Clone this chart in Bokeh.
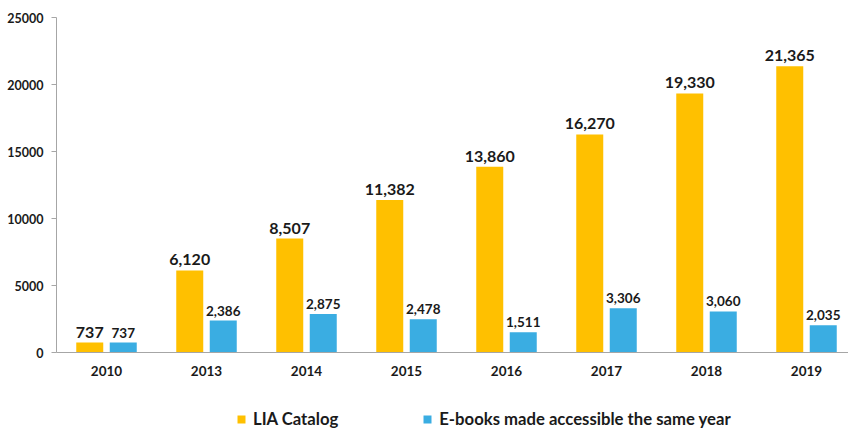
from bokeh.plotting import figure
from bokeh.layouts import column
from bokeh.models import ColumnDataSource, Legend, LegendItem, Range1d, NumeralTickFormatter, FixedTicker
from bokeh.core.properties import value
from bokeh.embed import file_html
from bokeh.resources import INLINE

years = ["2010", "2013", "2014", "2015", "2016", "2017", "2018", "2019"]
lia_catalog = [737, 6120, 8507, 11382, 13860, 16270, 19330, 21365]
ebooks = [737, 2386, 2875, 2478, 1511, 3306, 3060, 2035]
y_ticks = [0, 5000, 10000, 15000, 20000, 25000]
series_names = ["LIA Catalog", "E-books made accessible the same year"]

OFF = 0.1675   # dodge of each bar from the category centre (category units)
BW = 0.27      # bar width (category units)

centers = [i + 0.5 for i in range(len(years))]
src = ColumnDataSource(dict(
    xc=centers,
    x1=[c - OFF for c in centers],
    x2=[c + OFF for c in centers],
    lia=lia_catalog, eb=ebooks,
    lia_lbl=[f"{v:,}" for v in lia_catalog],
    eb_lbl=[f"{v:,}" for v in ebooks],
))

FONT = "Lato"
YEL = "#FFC000"
BLU = "#3AADE2"
TXT = "#1a1a1a"

p = figure(x_range=Range1d(0, 7.92), y_range=Range1d(0, 25000),
           width=848, height=400, output_backend="svg", toolbar_location=None,
           min_border_left=56, min_border_right=0, min_border_top=17, min_border_bottom=48)

p.vbar(x="x1", top="lia", width=BW, source=src, fill_color=YEL, line_color=None)
p.vbar(x="x2", top="eb", width=BW, source=src, fill_color=BLU, line_color=None)

p.text(x="x1", y="lia", text="lia_lbl", source=src,
       text_align="center", text_baseline="bottom", y_offset=-5,
       text_font=value(FONT), text_font_style="bold", text_font_size="16px", text_color=TXT)
p.text(x="x2", y="eb", text="eb_lbl", source=src,
       text_align="center", text_baseline="bottom", y_offset=-5,
       text_font=value(FONT), text_font_style="bold", text_font_size="13.5px", text_color=TXT)

p.xgrid.visible = False
p.ygrid.visible = False
p.outline_line_color = None

p.yaxis.ticker = FixedTicker(ticks=y_ticks)
p.yaxis.formatter = NumeralTickFormatter(format="0")
p.yaxis.minor_tick_line_color = None
p.yaxis.major_tick_in = 0
p.yaxis.major_tick_out = 5
p.yaxis.axis_line_color = "#a6a6a6"
p.yaxis.major_tick_line_color = "#a6a6a6"
p.yaxis.major_label_text_font = FONT
p.yaxis.major_label_text_font_style = "bold"
p.yaxis.major_label_text_font_size = "12.5px"
p.yaxis.major_label_text_color = TXT
p.yaxis.major_label_standoff = 8

p.xaxis.ticker = FixedTicker(ticks=centers)
p.xaxis.major_label_overrides = {c: y for c, y in zip(centers, years)}
p.xaxis.axis_line_color = "#a6a6a6"
p.xaxis.major_tick_line_color = None
p.xaxis.minor_tick_line_color = None
p.xaxis.major_label_text_font = FONT
p.xaxis.major_label_text_font_style = "bold"
p.xaxis.major_label_text_font_size = "13.5px"
p.xaxis.major_label_text_color = TXT
p.xaxis.major_label_standoff = 7

# legend strip below the chart (its frame is aligned with the chart frame)
lg = figure(width=848, height=29, output_backend="svg", toolbar_location=None,
            x_range=Range1d(0, 1), y_range=Range1d(0, 1),
            min_border=0, outline_line_color=None)
lg.axis.visible = False
lg.grid.visible = False
d1 = lg.vbar(x=[10], top=[10], bottom=[9], width=0.1, fill_color=YEL, line_color=None)
d2 = lg.vbar(x=[10], top=[10], bottom=[9], width=0.1, fill_color=BLU, line_color=None)
legend = Legend(items=[LegendItem(label=series_names[0], renderers=[d1]),
                       LegendItem(label=series_names[1], renderers=[d2])],
                orientation="horizontal", location=(180, 0), padding=0, margin=0,
                label_text_font=FONT, label_text_font_style="bold", label_text_font_size="16.7px",
                label_text_color=TXT, glyph_width=10, glyph_height=10, label_standoff=7,
                label_height=20, spacing=84, border_line_color=None, background_fill_alpha=0)
lg.add_layout(legend, "center")

open("out.html", "w").write(file_html(column(p, lg, spacing=0), INLINE))
